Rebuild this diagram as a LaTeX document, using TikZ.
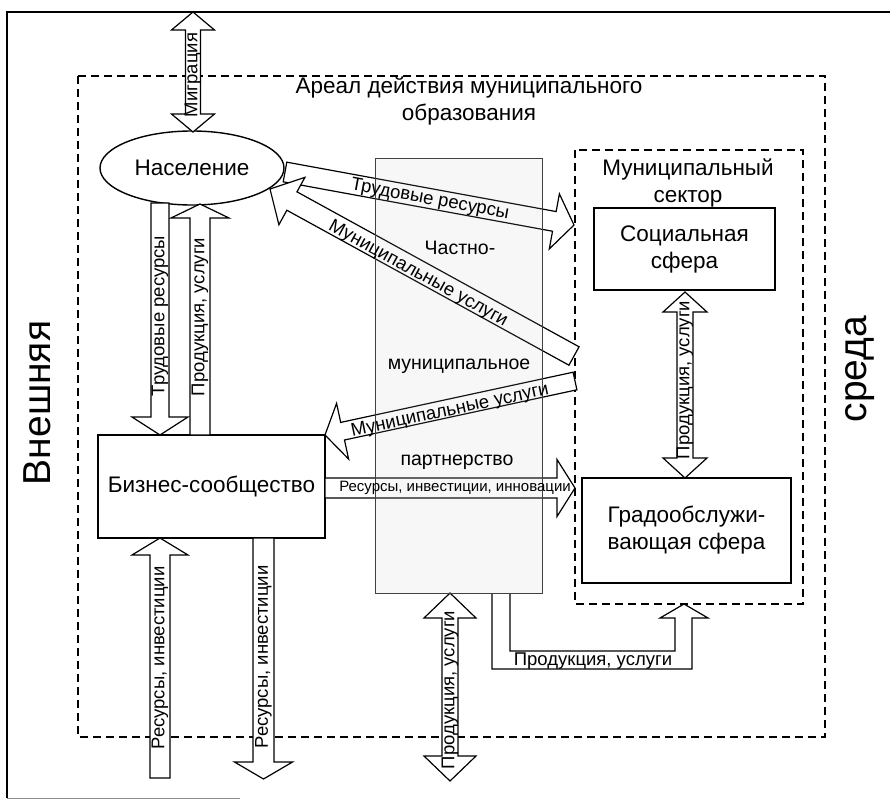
\documentclass[tikz,border=0pt]{standalone}
\usepackage{fontspec}
\setmainfont{Liberation Sans}
\usetikzlibrary{calc,shapes.geometric}
\newcommand{\sarrow}[5]{% tail, tip, half shaft, half head, head length
  \coordinate (hb-#2) at ($(#2)!#5!(#1)$);
  \draw[arr] ($(#1)!#3!90:(#2)$) -- ($(hb-#2)!#3!-90:(#1)$) -- ($(hb-#2)!#4!-90:(#1)$) -- (#2) -- ($(hb-#2)!#4!90:(#1)$) -- ($(hb-#2)!#3!90:(#1)$) -- ($(#1)!#3!-90:(#2)$) -- cycle;}
\newcommand{\darrow}[5]{% tipA, tipB, half shaft, half head, head length
  \coordinate (ha-#1) at ($(#1)!#5!(#2)$);
  \coordinate (hb-#2) at ($(#2)!#5!(#1)$);
  \draw[arr] (#1) -- ($(ha-#1)!#4!90:(#2)$) -- ($(ha-#1)!#3!90:(#2)$) -- ($(hb-#2)!#3!-90:(#1)$) -- ($(hb-#2)!#4!-90:(#1)$) -- (#2) -- ($(hb-#2)!#4!90:(#1)$) -- ($(hb-#2)!#3!90:(#1)$) -- ($(ha-#1)!#3!-90:(#2)$) -- ($(ha-#1)!#4!-90:(#2)$) -- cycle;}
\tikzset{
  arr/.style={draw, line width=1.2pt, fill=white, line join=miter},
  box/.style={draw, line width=1.4pt, fill=white, inner sep=0pt},
  dbox/.style={draw, line width=1.3pt, dash pattern=on 8pt off 5pt},
  mlab/.style={font=\fontsize{22.5}{27}\selectfont, align=center, inner sep=0pt},
  plab/.style={font=\fontsize{19.5}{22}\selectfont, inner sep=0pt},
  alab/.style={font=\fontsize{18.5}{20}\selectfont, inner sep=0pt},
  slab/.style={font=\fontsize{15}{17}\selectfont, inner sep=0pt},
  blab/.style={font=\fontsize{39}{42}\selectfont, inner sep=0pt, rotate=90, anchor=base}
}
\begin{document}
\begin{tikzpicture}[x=1pt,y=-1pt]
\useasboundingbox (0,0) rectangle (890,800);
% outer frame
\coordinate (f1) at (7,12); \coordinate (f2) at (890,12); \coordinate (f3) at (7,798); \coordinate (f4) at (240,798);
\draw[line width=1.6pt] (f2) -- (f1) -- (f3);
\draw[line width=1pt, black!45] (f3) -- (f4);
% dashed areas
\draw[dbox] (78,76) rectangle (825,737);
\draw[dbox] (575,150) rectangle (803,604);
% boxes
\node[box, ellipse, minimum width=184pt, minimum height=74pt] (pop) at (192,168) {};
\node[box, minimum width=227pt, minimum height=103pt] (biz) at (211.5,486.5) {};
\node[box, minimum width=181pt, minimum height=82pt] (soc) at (684.5,249) {};
\node[box, minimum width=209pt, minimum height=105pt] (grad) at (686.5,530.5) {};
% arrow end points
\coordinate (m1) at (193,12); \coordinate (m2) at (193,132);
\coordinate (t1a) at (160,203); \coordinate (t1b) at (160,435);
\coordinate (p1a) at (200,435); \coordinate (p1b) at (200,204);
\coordinate (t2a) at (285,172); \coordinate (t2b) at (574,225);
\coordinate (u1a) at (574,356); \coordinate (u1b) at (270,189);
\coordinate (u2a) at (575,381); \coordinate (u2b) at (325,435);
\coordinate (r1a) at (325,488); \coordinate (r1b) at (575,488);
\coordinate (s1) at (685,292); \coordinate (s2) at (685,478);
\coordinate (i1a) at (160,778); \coordinate (i1b) at (160,538);
\coordinate (i2a) at (263.5,538); \coordinate (i2b) at (263.5,779);
\coordinate (b1) at (450,593); \coordinate (b2) at (450,781);
% arrows
\darrow{m1}{m2}{7.5pt}{21.5pt}{18pt}
\sarrow{t1a}{t1b}{9pt}{28pt}{18pt}
\sarrow{p1a}{p1b}{10pt}{29pt}{14pt}
\sarrow{t2a}{t2b}{10pt}{28pt}{20pt}
\sarrow{u1a}{u1b}{10.5pt}{27pt}{25pt}
\sarrow{u2a}{u2b}{9pt}{28.5pt}{18pt}
\sarrow{r1a}{r1b}{10pt}{28.5pt}{18pt}
\darrow{s1}{s2}{8pt}{22pt}{20pt}
\sarrow{i1a}{i1b}{10pt}{28pt}{17pt}
\sarrow{i2a}{i2b}{10.5pt}{29pt}{17pt}
\darrow{b1}{b2}{8pt}{26pt}{25pt}
\draw[arr] (492,593) -- (492,669) -- (692,669) -- (692,618) -- (708,618) -- (684,604) -- (660,618) -- (675,618) -- (675,651) -- (510,651) -- (510,593);
% partnership area
\node[draw, line width=0.8pt, black!75, fill=black!25, fill opacity=0.12, minimum width=167pt, minimum height=435pt, inner sep=0pt] (ppp) at (458.5,375.5) {};
% texts
\node[mlab] (tpop) at (pop.center) {Население};
\node[mlab] (tbiz) at (biz.center) {Бизнес-сообщество};
\node[mlab] (tsoc) at (soc.center) {Социальная\\сфера};
\node[mlab] (tgrad) at (grad.center) {Градообслужи-\\вающая сфера};
\node[mlab] (tareal) at (469,101) {Ареал действия муниципального\\образования};
\node[mlab] (tms) at (688,183) {Муниципальный\\сектор};
\node[plab] (tp1) at (460,248) {Частно-};
\node[plab] (tp2) at (459,366) {муниципальное};
\node[plab] (tp3) at (457,462) {партнерство};
\node[blab] (tvn) at (50,403) {Внешняя};
\node[blab] (tsr) at (866,369) {среда};
\node[alab, rotate=90] (lmig) at (193,75) {Миграция};
\node[alab, rotate=90] (ltr1) at (160,316) {Трудовые ресурсы};
\node[alab, rotate=90] (lpr1) at (200,317) {Продукция, услуги};
\node[alab, rotate=-10.5] (ltr2) at (430,200) {Трудовые ресурсы};
\node[alab, rotate=-28.9] (lmu1) at (418,274) {Муниципальные услуги};
\node[alab, rotate=12] (lmu2) at (450,411) {Муниципальные услуги};
\node[slab] (lrii) at (455,488) {Ресурсы, инвестиции, инновации};
\node[alab, rotate=90] (lpr2) at (685,380) {Продукция, услуги};
\node[alab, rotate=90] (lri1) at (160,658) {Ресурсы, инвестиции};
\node[alab, rotate=90] (lri2) at (263.5,657) {Ресурсы, инвестиции};
\node[alab, rotate=90] (lpr3) at (450,690) {Продукция, услуги};
\node[alab] (lpr4) at (593,661) {Продукция, услуги};
\end{tikzpicture}
\end{document}
